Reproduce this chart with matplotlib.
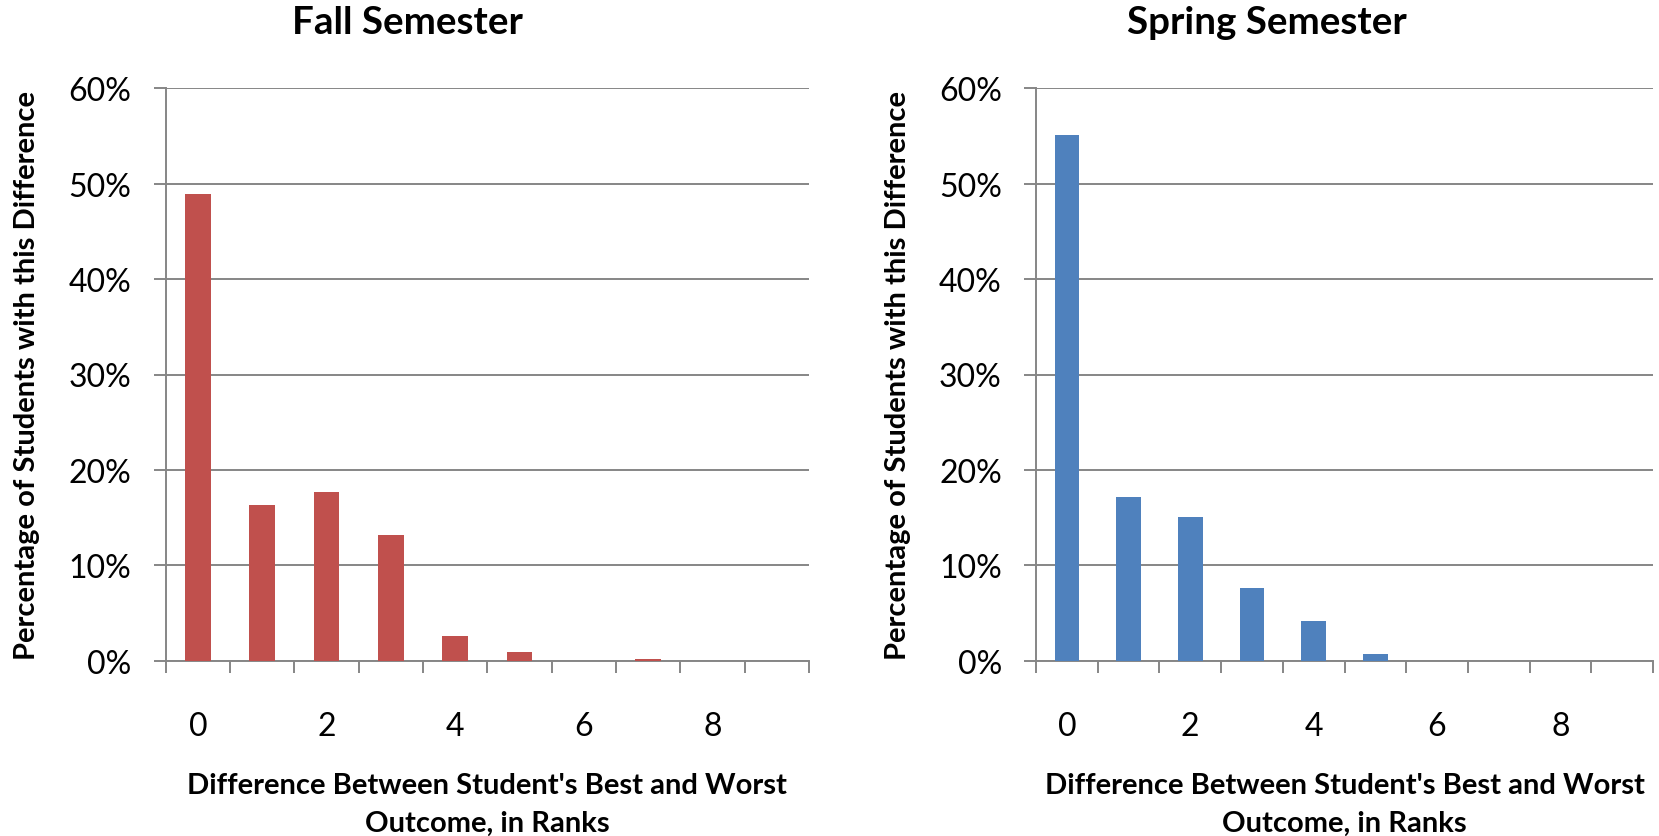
import numpy as np
import matplotlib
matplotlib.use('Agg')
import matplotlib.pyplot as plt
from matplotlib.ticker import FuncFormatter

plt.rcParams['font.family'] = ['Lato', 'DejaVu Sans']

# Data (share of students, %)
diffs = [0, 1, 2, 3, 4, 5, 6, 7, 8, 9]
fall_pct = [48.9, 16.3, 17.7, 13.2, 2.6, 0.9, 0.0, 0.2, 0.0, 0.0]
spring_pct = [55.1, 17.2, 15.1, 7.6, 4.2, 0.7, 0.0, 0.0, 0.0, 0.0]
shown_ticks = [0, 2, 4, 6, 8]

titles = ["Fall Semester", "Spring Semester"]
colors = ["#C0504D", "#4F81BD"]
ylab = "Percentage of Students with this Difference"
xlab = "Difference Between Student's Best and Worst\nOutcome, in Ranks"

W, H = 1659, 837
fig = plt.figure(figsize=(W/100., H/100.), dpi=100)

# axes boxes in pixels: left, right, top, bottom
boxes = [(165.7, 809.0, 89.3, 661.7), (1036.0, 1653.0, 89.3, 661.7)]
title_x = [407, 1267]
ylab_x = [27, 898]
grey = "#868686"

for k, vals in enumerate([fall_pct, spring_pct]):
    l, r, t, b = boxes[k]
    ax = fig.add_axes([l/W, 1-b/H, (r-l)/W, (b-t)/H])
    ax.bar(diffs, vals, width=0.4, color=colors[k], zorder=3)
    ax.set_xlim(-0.5, len(diffs)-0.5)
    ax.set_ylim(0, 60)

    # y axis
    ax.set_yticks(np.arange(0, 61, 10))
    ax.yaxis.set_major_formatter(FuncFormatter(lambda v, p: "%d%%" % v))
    ax.grid(axis='y', color=grey, linewidth=1.4, zorder=0)
    ax.tick_params(axis='y', length=8.6, width=1.4, color=grey, pad=16, labelsize=23)

    # x axis: marks between categories, labels on every other category
    ax.set_xticks(np.arange(-0.5, len(diffs), 1.0))
    ax.set_xticklabels([])
    ax.set_xticks(shown_ticks, minor=True)
    ax.set_xticklabels([str(s) for s in shown_ticks], minor=True)
    ax.tick_params(axis='x', which='major', length=8.6, width=1.4, color=grey, direction='out')
    ax.tick_params(axis='x', which='minor', length=0, pad=36, labelsize=23)

    for s in ['top', 'right']:
        ax.spines[s].set_visible(False)
    for s in ['left', 'bottom']:
        ax.spines[s].set_color(grey)
        ax.spines[s].set_linewidth(1.4)

    fig.text(title_x[k]/W, 1-23/H, titles[k], ha='center', va='center',
             fontsize=27.7, fontweight='bold')
    fig.text(ylab_x[k]/W, 1-(t+b)/2/H, ylab, ha='center', va='center',
             rotation=90, fontsize=21, fontweight='bold')
    fig.text((l+r)/2/W, 1-805/H, xlab, ha='center', va='center',
             fontsize=21, fontweight='bold', linespacing=1.55)

fig.savefig("out.png", dpi=100)
